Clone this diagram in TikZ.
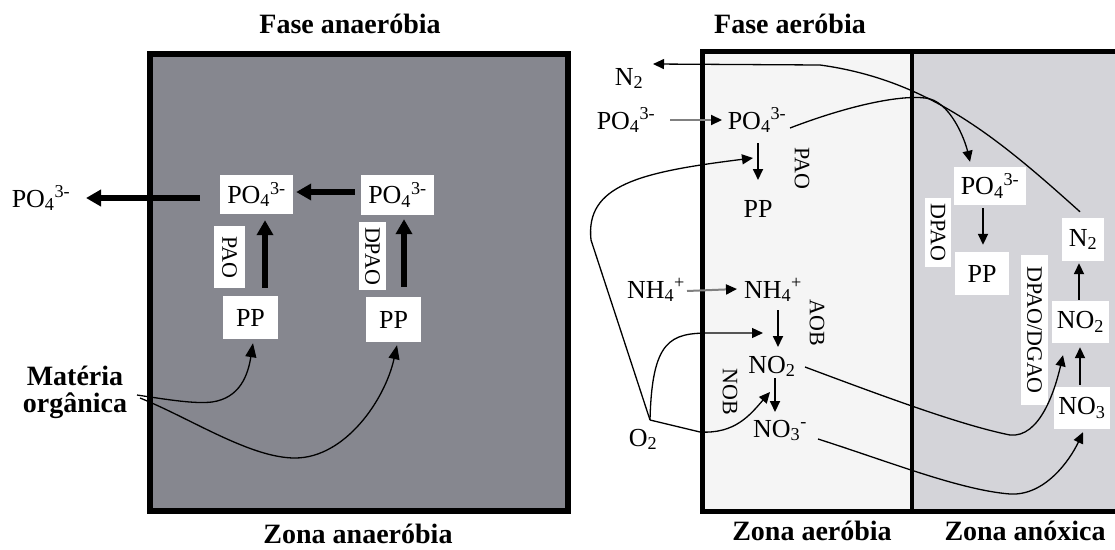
\documentclass[tikz,border=0pt]{standalone}
\usepackage{fontspec}
\setmainfont{Liberation Serif}
\usetikzlibrary{arrows.meta,calc}
\definecolor{anagray}{RGB}{134,135,143}
\definecolor{aerofill}{RGB}{245,245,245}
\definecolor{anoxfill}{RGB}{212,212,217}
\newcommand{\POf}{PO\textsubscript{4}\textsuperscript{3-}}
\tikzset{
 txt/.style={inner sep=0pt, anchor=base, font=\fontsize{26}{30}\selectfont},
 ttl/.style={inner sep=0pt, anchor=base, font=\fontsize{28}{30}\selectfont\bfseries},
 wbox/.style={fill=white, inner sep=0pt, font=\fontsize{26}{30}\selectfont},
 vlbl/.style={rotate=-90, inner sep=0pt, font=\fontsize{22}{24}\selectfont},
 vbox/.style={vlbl, fill=white},
 bigarr/.style={line width=6pt, -{Triangle[length=15pt,width=16pt]}},
 thinarr/.style={line width=1.8pt, -{Triangle[length=11pt,width=10pt]}},
 grayarr/.style={line width=2pt, draw=gray, -{Triangle[length=11pt,width=10pt,color=black]}},
 curv/.style={line width=1.3pt, -{Triangle[length=11pt,width=10pt]}},
 curvL/.style={line width=1.3pt, -{Triangle[length=14pt,width=11pt]}},
}
\begin{document}
\begin{tikzpicture}[x=1pt,y=-1pt]
\useasboundingbox (0,0) rectangle (1115,549);
% ---------- left panel ----------
\draw[line width=6pt, fill=anagray] (150,54) rectangle (568,511);
\node[ttl] (tL) at (350,33) {Fase anaeróbia};
\node[ttl] (bL) at (358,543) {Zona anaeróbia};
\node[wbox, minimum width=73pt, minimum height=39pt] (poL) at (256.5,194.5) {\POf};
\node[wbox, minimum width=73pt, minimum height=40pt] (poR) at (397.5,195) {\POf};
\node[wbox, minimum width=55pt, minimum height=43pt] (ppL) at (250.5,317.5) {PP};
\node[wbox, minimum width=55pt, minimum height=45pt] (ppR) at (393.5,319.5) {PP};
\node[vbox, minimum width=62pt, minimum height=31pt] (paoL) at (229.5,257) {PAO};
\node[vbox, minimum width=68pt, minimum height=27pt] (dpaoL) at (372.5,256) {DPAO};
\node[txt] (poExt) at (41,207) {\POf};
\node[font=\fontsize{28}{27}\selectfont\bfseries, align=center, inner sep=0pt] (mo) at (75,392.5) {Matéria\\orgânica};
\coordinate (moOut) at (137,395);
\draw[bigarr] ($(ppL.north)+(14.5,-8)$) -- ($(poL.south)+(8.5,6)$);
\draw[bigarr] ($(ppR.north)+(10.5,-10)$) -- ($(poR.south)+(6.5,4)$);
\draw[bigarr] ($(poR.west)+(-6,-3)$) -- ($(poL.east)+(3,-2.5)$);
\draw[bigarr] ($(poL.west)+(-20,3.5)$) -- ($(poExt.base)+(45,-9)$);
\draw[curvL] (moOut) .. controls (170,400) and (195,404) .. (212,402)
  .. controls (240,398) and (248,375) .. ($(ppL.south)+(2.5,4)$);
\draw[curvL] ($(moOut)+(3,3)$) .. controls (190,418) and (250,458) .. (295,458)
  .. controls (345,458) and (385,400) .. ($(ppR.south)+(3.5,3)$);
% ---------- right panel ----------
\fill[aerofill] (702,51) rectangle (912,511);
\fill[anoxfill] (912,51) rectangle (1120,511);
\draw[line width=5pt] (1122,51) -- (702,51) -- (702,511) -- (1122,511);
\draw[line width=4.5pt] (912,51) -- (912,511);
\node[ttl] (tR) at (790,33) {Fase aeróbia};
\node[ttl] (bA) at (812,540) {Zona aeróbia};
\node[ttl] (bX) at (1025,540) {Zona anóxica};
% aerobic zone texts
\node[txt] (n2ext) at (629,85) {N\textsubscript{2}};
\node[txt] (po4ext) at (626,129) {\POf};
\node[txt] (po4a) at (757,129) {\POf};
\node[txt] (ppa) at (758,217) {PP};
\node[vlbl] (paoA) at (802,168) {PAO};
\node[txt] (nh4ext) at (656,298) {NH\textsubscript{4}\textsuperscript{+}};
\node[txt] (nh4a) at (773,298) {NH\textsubscript{4}\textsuperscript{+}};
\node[vlbl] (aob) at (817,323) {AOB};
\node[txt] (no2a) at (772,373) {NO\textsubscript{2}};
\node[vlbl] (nob) at (730,392) {NOB};
\node[txt] (no3a) at (780,437) {NO\textsubscript{3}\textsuperscript{-}};
\node[txt] (o2) at (643,446) {O\textsubscript{2}};
\coordinate (o2v) at ($(o2.base)+(7,-26)$);
% anoxic zone boxes
\node[wbox, minimum width=72pt, minimum height=38pt] (po4b) at (990,186) {\POf};
\node[wbox, minimum width=54pt, minimum height=43pt] (ppb) at (982,273.5) {PP};
\node[vbox, minimum width=69pt, minimum height=26pt] (dpaoB) at (938,232.5) {DPAO};
\node[wbox, minimum width=42pt, minimum height=43pt] (n2b) at (1083,239.5) {N\textsubscript{2}};
\node[wbox, minimum width=57pt, minimum height=42pt] (no2b) at (1080.5,322) {NO\textsubscript{2}};
\node[wbox, minimum width=56pt, minimum height=42pt] (no3b) at (1082,408) {NO\textsubscript{3}};
\node[vbox, minimum width=150pt, minimum height=27pt] (dgao) at (1034.5,330) {DPAO/DGAO};
% straight arrows
\draw[grayarr] ($(po4ext.base)+(44,-9)$) -- ($(po4a.base)+(-35,-9)$);
\draw[grayarr] ($(nh4ext.base)+(31,-7)$) -- ($(nh4a.base)+(-36,-9)$);
\draw[thinarr] ($(po4a.base)+(1,14)$) -- ($(ppa.base)+(0,-37)$);
\draw[thinarr] ($(nh4a.base)+(5,12)$) -- ($(no2a.base)+(6,-26)$);
\draw[thinarr] ($(no2a.base)+(3,5)$) -- ($(no3a.base)+(-5,-25)$);
\draw[thinarr] ($(po4b.south)+(-7,3)$) -- ($(ppb.north)+(1,-7)$);
\draw[thinarr] ($(no2b.north)+(-1.5,-1)$) -- ($(n2b.south)+(-4,2)$);
\draw[thinarr] ($(no3b.north)+(-2,-2)$) -- ($(no2b.south)+(-0.5,4)$);
% curved connectors
\draw[curv] ($(n2b.north)+(-3,-6)$) .. controls (1000,140) and (930,80) .. (820,65)
  -- ($(n2ext.base)+(24,-21)$);
\draw[curv] ($(po4a.base)+(33,-1)$) .. controls (850,105) and (900,95) .. (925,98)
  .. controls (950,100) and (965,140) .. ($(po4b.north)+(-20,-5)$);
\draw[curv] (o2v) -- (591,240) .. controls (585,185) and (640,172) .. ($(po4a.base)+(-4,29)$);
\draw[curv] (o2v) .. controls (652,340) and (670,333) .. (710,333) -- ($(no2a.base)+(-9,-40)$);
\draw[curv] (o2v) -- (700,432) .. controls (735,434) and (750,415) .. ($(no3a.base)+(-10,-45)$);
\draw[curv] ($(no2a.base)+(33,-6)$) .. controls (880,395) and (960,425) .. (1010,435)
  .. controls (1040,438) and (1055,390) .. ($(no2b.south)+(-17.5,12)$);
\draw[curv] ($(no3a.base)+(38,2)$) .. controls (890,462) and (960,490) .. (1010,494)
  .. controls (1045,496) and (1070,460) .. ($(no3b.south)+(1,3)$);
\end{tikzpicture}
\end{document}
